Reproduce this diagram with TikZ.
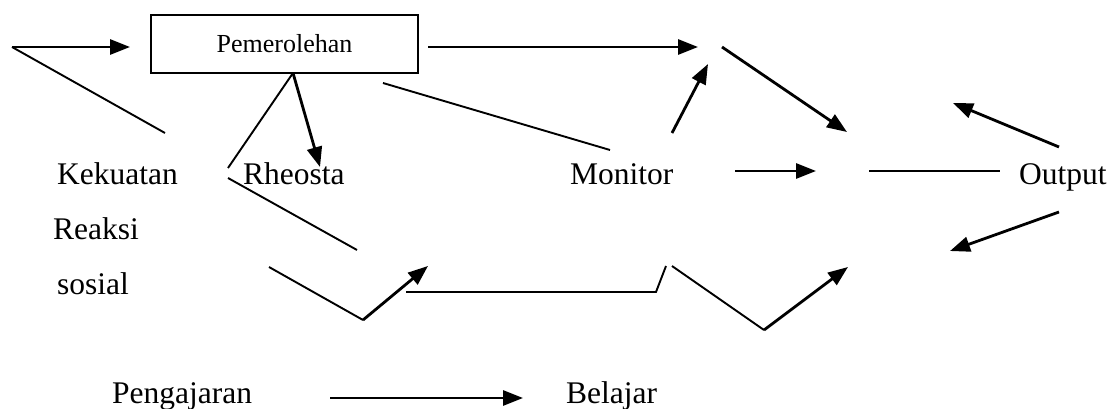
\documentclass[tikz,border=0pt]{standalone}
\usepackage{fontspec}
\setmainfont{Liberation Serif}
\usetikzlibrary{arrows.meta}
\begin{document}
\begin{tikzpicture}[x=1pt,y=-1pt,
  lbl/.style={anchor=base west,inner sep=0pt,font=\fontsize{31.5}{36}\selectfont},
  thinline/.style={line width=1.9pt},
  arr/.style={line width=2.8pt,-{Triangle[length=20pt,width=15pt]}},
  boxst/.style={draw,line width=1.4pt,minimum width=267pt,minimum height=58pt,inner sep=0pt,font=\fontsize{26}{30}\selectfont}]
\useasboundingbox (0,0) rectangle (1111,409);
% box
\node[boxst] (box) at (284.5,44) {Pemerolehan};
% labels
\node[lbl] (kek) at (57,184) {Kekuatan};
\node[lbl] (rhe) at (243,184) {Rheosta};
\node[lbl] (mon) at (570,184) {Monitor};
\node[lbl] (out) at (1019,184) {Output};
\node[lbl] (rea) at (53,239) {Reaksi};
\node[lbl] (sos) at (57,294) {sosial};
\node[lbl] (pen) at (112,403) {Pengajaran};
\node[lbl] (bel) at (566,403) {Belajar};
% coordinates
\coordinate (a0) at (12,47);
\coordinate (a1) at (130,47);
\coordinate (a2) at (165,133);
\coordinate (b0) at (428,47);
\coordinate (b1) at (698,47);
\coordinate (c0) at (722,47);
\coordinate (c1) at (847,132);
\coordinate (d0) at (293,73);
\coordinate (d1) at (228,168);
\coordinate (d2) at (320,167);
\coordinate (e0) at (228,178);
\coordinate (e1) at (357,250);
\coordinate (f0) at (383,83);
\coordinate (f1) at (610,150);
\coordinate (g0) at (672,133);
\coordinate (g1) at (708,64);
\coordinate (h0) at (735,171);
\coordinate (h1) at (816,171);
\coordinate (i0) at (869,171);
\coordinate (i1) at (1000,171);
\coordinate (j0) at (1059,147);
\coordinate (j1) at (953,103);
\coordinate (k0) at (1059,212);
\coordinate (k1) at (950,251);
\coordinate (l0) at (269,267);
\coordinate (l1) at (363,320);
\coordinate (l2) at (428,266);
\coordinate (m0) at (406,292);
\coordinate (m1) at (656,292);
\coordinate (m2) at (666,266);
\coordinate (n0) at (672,266);
\coordinate (n1) at (764,330);
\coordinate (n2) at (848,267);
\coordinate (p0) at (330,398);
\coordinate (p1) at (523,398);
% connectors
\draw[arr] (a0) -- (a1);
\draw[thinline] (a0) -- (a2);
\draw[arr] (b0) -- (b1);
\draw[arr] (c0) -- (c1);
\draw[thinline] (d0) -- (d1);
\draw[arr] (d0) -- (d2);
\draw[thinline] (e0) -- (e1);
\draw[thinline] (f0) -- (f1);
\draw[arr] (g0) -- (g1);
\draw[arr] (h0) -- (h1);
\draw[thinline] (i0) -- (i1);
\draw[arr] (j0) -- (j1);
\draw[arr] (k0) -- (k1);
\draw[thinline] (l0) -- (l1);
\draw[arr] (l1) -- (l2);
\draw[thinline] (m0) -- (m1) -- (m2);
\draw[thinline] (n0) -- (n1);
\draw[arr] (n1) -- (n2);
\draw[arr] (p0) -- (p1);
\end{tikzpicture}
\end{document}
